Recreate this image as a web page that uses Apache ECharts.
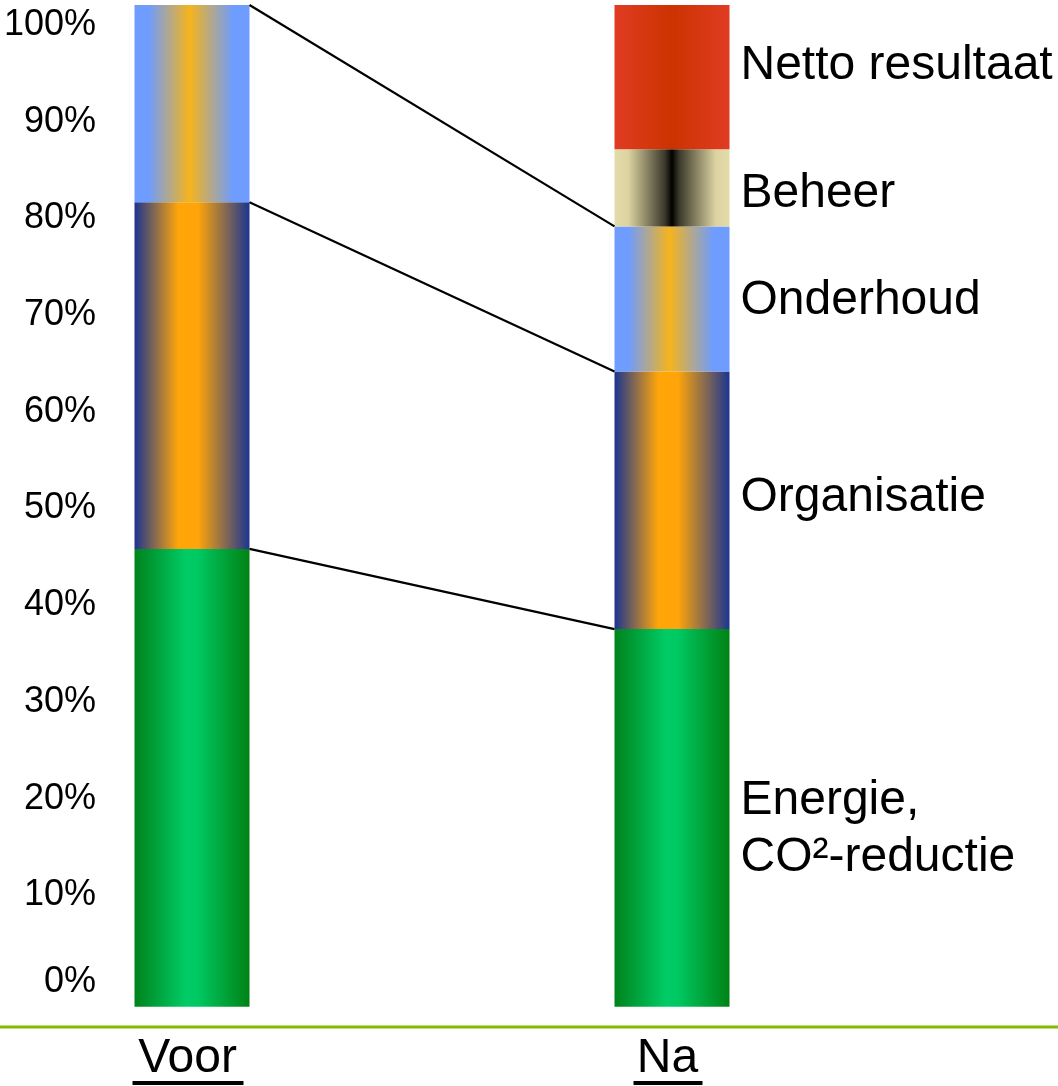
<!DOCTYPE html>
<html>
<head>
<meta charset="utf-8">
<script src="https://cdn.jsdelivr.net/npm/echarts@6/dist/echarts.min.js"></script>
<style>
  html, body { margin: 0; padding: 0; background: #fff; }
  #main { width: 1058px; height: 1086px; }
</style>
</head>
<body>
<div id="main"></div>
<script>
// categorieen en aandelen (in %)
var categories = ['Voor', 'Na'];
var energie = [45.7, 37.7];
var organisatie = [34.6, 25.7];
var onderhoud = [19.7, 14.5];
var beheer = [0, 7.7];
var netto = [0, 14.4];

var FONT = '"Liberation Sans", Arial, sans-serif';
var BAR_W = 115;

// horizontale verloop per segment
function grad(stops) {
	return {
		type: 'linear', x: 0, y: 0, x2: 1, y2: 0,
		colorStops: stops.map(function (s) { return {offset: s[0], color: s[1]}; })
	};
}
var gEnergie = grad([[0, '#00821c'], [0.45, '#00cc66'], [0.55, '#00c862'], [1, '#008214']]);
var gOrganisatie = grad([[0, '#1b3590'], [0.38, '#ffa50a'], [0.55, '#ffa50a'], [1, '#1b3590']]);
var gOnderhoud = grad([[0, '#6e9cff'], [0.12, '#6e9cff'], [0.48, '#f6b41c'], [0.86, '#6e9cff'], [1, '#6e9cff']]);
var gBeheer = grad([[0, '#e4dbab'], [0.12, '#ddd3a2'], [0.44, '#3a382a'], [0.5, '#000000'], [0.56, '#3a382a'], [0.88, '#ddd3a2'], [1, '#e4dbab']]);
var gNetto = grad([[0, '#e03c22'], [0.5, '#cc3300'], [1, '#e03c22']]);

// cumulatieve bovenkanten voor de verbindingslijnen
function cum(arrs, idx) {
	var s = 0;
	for (var i = 0; i < arrs.length; i++) s += arrs[i][idx];
	return s;
}
var connectors = [
	[cum([energie, organisatie, onderhoud], 0), cum([energie, organisatie, onderhoud], 1)],
	[cum([energie, organisatie], 0), cum([energie, organisatie], 1)],
	[cum([energie], 0), cum([energie], 1)]
];

function barSeries(name, data, color, labelText, offsetY) {
	return {
		name: name,
		type: 'bar',
		stack: 'total',
		barWidth: BAR_W,
		clip: false,
		xAxisIndex: 0,
		yAxisIndex: 0,
		data: data,
		itemStyle: {color: color},
		label: {
			show: true,
			position: 'right',
			distance: 11,
			offset: [0, offsetY],
			color: '#000',
			fontFamily: FONT,
			fontSize: 48,
			lineHeight: 57,
			formatter: function (p) { return p.dataIndex === 1 ? labelText : ''; }
		},
		emphasis: {disabled: true},
		silent: true
	};
}

var chart = echarts.init(document.getElementById('main'), null, {renderer: 'canvas'});

var option = {
	backgroundColor: '#fff',
	animation: false,
	grid: [
		{left: 192, right: 386, top: 5, bottom: 79.3},
		{left: 96, width: 1, top: 25, bottom: 94}
	],
	xAxis: [
		{
			gridIndex: 0,
			type: 'category',
			data: categories,
			boundaryGap: false,
			axisLine: {show: false},
			axisTick: {show: false},
			axisLabel: {
				margin: 28,
				color: '#000',
				fontFamily: FONT,
				fontSize: 48,
				lineHeight: 48,
				verticalAlign: 'top',
				padding: [0, 9, 0, 0]
			}
		},
		{gridIndex: 1, type: 'value', show: false}
	],
	yAxis: [
		{gridIndex: 0, type: 'value', min: 0, max: 100, show: false},
		{
			gridIndex: 1,
			type: 'value',
			min: 0,
			max: 100,
			interval: 10,
			axisLine: {show: false},
			axisTick: {show: false},
			splitLine: {show: false},
			axisLabel: {
				margin: 0,
				color: '#000',
				fontFamily: FONT,
				fontSize: 36,
				formatter: function (v) {
					// in het origineel staat 0% iets hoger
					return v === 0 ? '{z|0%}' : v + '%';
				},
				rich: {
					z: {fontFamily: FONT, fontSize: 36, color: '#000', padding: [0, 0, 20, 0]}
				}
			}
		}
	],
	series: [
		barSeries('Energie', energie, gEnergie, 'Energie,\nCO²-reductie', 11),
		barSeries('Organisatie', organisatie, gOrganisatie, 'Organisatie', -3),
		barSeries('Onderhoud', onderhoud, gOnderhoud, 'Onderhoud', 2),
		barSeries('Beheer', beheer, gBeheer, 'Beheer', 6),
		barSeries('Netto resultaat', netto, gNetto, 'Netto resultaat', -11),
		{
			// lijnen tussen de segmenten van Voor en Na
			type: 'custom',
			xAxisIndex: 0,
			yAxisIndex: 0,
			silent: true,
			clip: false,
			z: 5,
			data: connectors,
			renderItem: function (params, api) {
				var from = api.coord([0, api.value(0)]);
				var to = api.coord([1, api.value(1)]);
				return {
					type: 'line',
					shape: {x1: from[0] + BAR_W / 2, y1: from[1], x2: to[0] - BAR_W / 2, y2: to[1]},
					style: {stroke: '#000', lineWidth: 2.2}
				};
			}
		}
	],
	graphic: [
		{type: 'rect', left: 0, top: 1025.5, shape: {width: 1058, height: 3}, style: {fill: '#80bc00'}, silent: true}
	]
};

chart.setOption(option);

// onderstreping van de categorielabels
var underlines = [];
var ulWidths = [111, 69];
for (var i = 0; i < categories.length; i++) {
	var cx = chart.convertToPixel({xAxisIndex: 0}, categories[i]);
	underlines.push({
		type: 'rect',
		left: cx - ulWidths[i] / 2 - 4,
		top: 1081,
		shape: {width: ulWidths[i], height: 4},
		style: {fill: '#000'},
		silent: true
	});
}
option.graphic = option.graphic.concat(underlines);
chart.setOption({graphic: option.graphic});
</script>
</body>
</html>
